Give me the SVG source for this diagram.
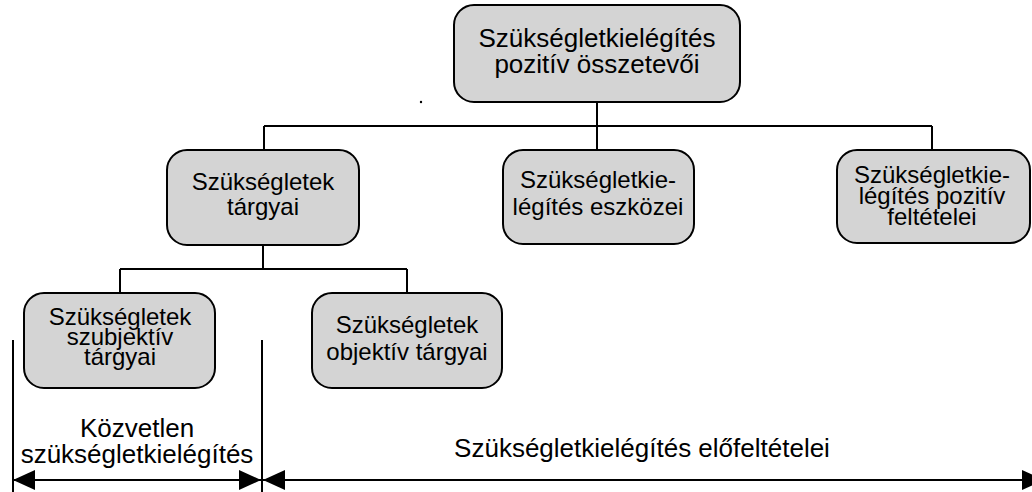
<svg xmlns="http://www.w3.org/2000/svg" width="1032" height="492" viewBox="0 0 1032 492">
<style>
.node rect{fill:#d4d4d4;stroke:#000;stroke-width:2}
.node text{font-family:"Liberation Sans",Arial,sans-serif;font-size:24px;fill:#000;text-anchor:middle}
.big text{font-size:26px}
.conn{fill:none;stroke:#000;stroke-width:2}
.lbl{font-family:"Liberation Sans",Arial,sans-serif;font-size:26px;fill:#000;text-anchor:middle}
</style>
<defs>
<marker id="ah" viewBox="0 0 22 20" refX="22" refY="10" markerWidth="22" markerHeight="20" markerUnits="userSpaceOnUse" orient="auto-start-reverse">
<path d="M0,0 L22,10 L0,20 z" fill="#000"/>
</marker>
</defs>
<rect width="1032" height="492" fill="#fff"/>
<g id="connectors">
<path class="conn" d="M597,102 V126 M264,126 H932 M264,126 V150 M597,126 V150 M932,126 V150"/>
<path class="conn" d="M263,245 V269 M120,269 H407 M120,269 V293 M407,269 V293"/>
<path class="conn" d="M13,340 V492 M262,340 V492"/>
<line class="conn" x1="13" y1="480" x2="261" y2="480" marker-start="url(#ah)" marker-end="url(#ah)"/>
<line class="conn" x1="263" y1="480" x2="1044" y2="480" marker-start="url(#ah)" marker-end="url(#ah)"/>
</g>
<g id="n-top" class="node big">
<rect x="454" y="5" width="286" height="97" rx="20"/>
<text x="597" y="47">Szükségletkielégítés</text>
<text x="597" y="73">pozitív összetevői</text>
</g>
<g id="n-targyai" class="node">
<rect x="167" y="150" width="192" height="95" rx="20"/>
<text x="263" y="190">Szükségletek</text>
<text x="263" y="215">tárgyai</text>
</g>
<g id="n-eszkozei" class="node">
<rect x="503" y="150" width="191" height="94" rx="20"/>
<text x="598" y="188">Szükségletkie-</text>
<text x="598" y="215">légítés eszközei</text>
</g>
<g id="n-feltetelei" class="node">
<rect x="837" y="150" width="193" height="93" rx="20"/>
<text x="932" y="183">Szükségletkie-</text>
<text x="932" y="204">légítés pozitív</text>
<text x="932" y="225">feltételei</text>
</g>
<g id="n-szubjektiv" class="node">
<rect x="24" y="293" width="191" height="95" rx="20"/>
<text x="120" y="325">Szükségletek</text>
<text x="120" y="345">szubjektív</text>
<text x="120" y="365">tárgyai</text>
</g>
<g id="n-objektiv" class="node">
<rect x="312" y="293" width="190" height="95" rx="20"/>
<text x="407" y="333">Szükségletek</text>
<text x="407" y="360">objektív tárgyai</text>
</g>
<circle cx="421" cy="102" r="1.2" fill="#000"/>
<g id="labels">
<text class="lbl" x="137" y="437">Közvetlen</text>
<text class="lbl" x="137" y="463">szükségletkielégítés</text>
<text class="lbl" x="642" y="457">Szükségletkielégítés előfeltételei</text>
</g>
</svg>
